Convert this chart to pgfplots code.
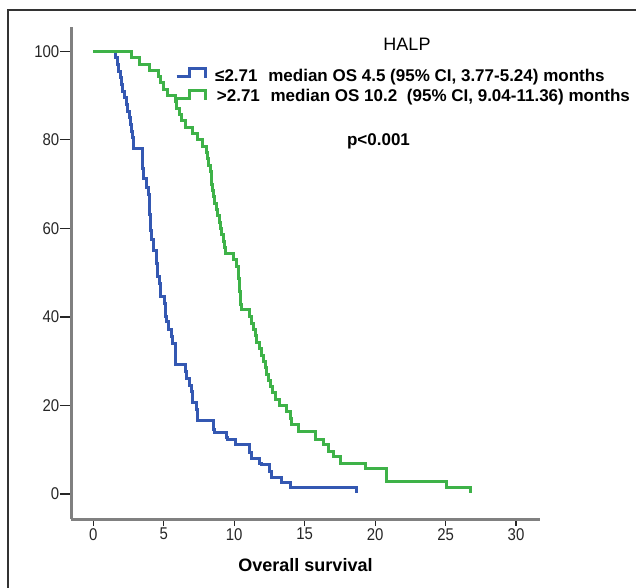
\documentclass[border=0pt]{standalone}
\usepackage{pgfplots}
\pgfplotsset{compat=1.18}
\usepackage{fontspec}
\setmainfont{Liberation Sans}
\newfontfamily\cfont[FakeStretch=0.88]{Liberation Sans}
\newfontfamily\cbold{Liberation Sans Bold}
\definecolor{kmblue}{RGB}{52,88,178}
\definecolor{kmgreen}{RGB}{62,178,72}
\definecolor{spine}{RGB}{128,128,128}

% Kaplan-Meier steps: time of drop, survival after drop
\pgfplotstableread{
t v
0 100
1.58 98.5
1.70 97.0
1.80 95.5
1.92 94.0
2.00 92.5
2.10 91.0
2.20 89.5
2.34 88.0
2.42 86.5
2.55 85.0
2.62 83.5
2.70 82.0
2.78 80.5
2.85 78.1
3.48 76.6
3.50 75.1
3.52 73.6
3.55 71.3
3.79 69.2
3.95 67.7
3.97 66.2
4.00 64.7
4.02 63.2
4.04 61.9
4.07 59.5
4.10 57.4
4.26 55.1
4.50 53.6
4.52 52.1
4.55 50.6
4.58 49.1
4.73 47.6
4.76 46.1
4.80 44.6
5.09 43.1
5.12 41.6
5.15 40.1
5.20 38.9
5.32 37.1
5.56 35.6
5.60 34.1
5.80 32.6
5.83 31.1
5.86 29.2
6.51 27.7
6.60 26.2
6.86 24.6
6.98 23.1
7.02 21.6
7.06 20.6
7.34 19.1
7.38 17.6
7.42 16.6
8.50 14.5
8.60 13.8
9.45 12.7
9.55 12.2
10.06 11.1
11.12 9.3
11.24 8.1
11.83 6.9
11.95 6.6
12.54 5.0
12.66 3.8
13.39 2.7
13.50 2.5
13.96 1.4
18.71 0.3
}\lowhalp

\pgfplotstableread{
t v
0 100
2.73 98.6
3.31 97.1
4.00 95.7
4.62 94.3
4.80 92.9
4.95 91.4
5.25 90.0
5.80 88.6
5.90 87.1
6.10 85.7
6.25 84.3
6.55 82.9
7.05 81.4
7.40 80.0
7.75 78.6
8.05 77.1
8.12 75.7
8.20 74.3
8.30 72.9
8.36 71.4
8.40 70.0
8.45 68.6
8.55 67.1
8.62 65.7
8.76 64.3
8.85 62.9
8.95 61.4
9.02 60.0
9.10 58.6
9.23 57.1
9.28 55.7
9.35 54.3
9.94 52.9
10.18 51.4
10.28 48.6
10.36 45.7
10.45 42.9
10.53 41.6
11.12 40.0
11.22 38.6
11.35 37.1
11.48 35.7
11.60 34.3
11.83 32.9
11.95 31.4
12.07 30.0
12.20 28.6
12.31 27.1
12.45 25.7
12.60 24.3
12.75 22.9
12.90 21.4
13.25 20.0
13.73 18.6
13.96 17.1
14.10 15.7
14.55 14.1
15.74 12.2
16.32 11.1
16.68 9.6
17.03 8.4
17.51 6.9
19.29 5.8
20.82 2.8
25.08 1.4
26.74 0.3
}\highhalp

\begin{document}
\begin{tikzpicture}[x=1pt,y=1pt]
\useasboundingbox (0,0) rectangle (636,587);
\draw[line width=1.4pt, black!80] (8,-2) -- (8,577) -- (640,577);
\begin{axis}[at={(71pt,68pt)}, anchor=south west, scale only axis,
  width=469pt, height=492pt,
  xmin=-1.58, xmax=31.7, ymin=-5.65, ymax=105.5,
  axis x line=bottom, axis y line=left,
  axis line style={-, line width=3pt, spine},
  xtick={0,5,...,30}, ytick={0,20,...,100},
  tick align=outside, major tick length=7pt,
  tick style={black!85, line width=1.2pt},
  ytick style={/pgfplots/major tick length=11pt},
  /pgf/number format/assume math mode=true,
  tick label style={font=\cfont\fontsize{17}{17}\selectfont, black!85},
  yticklabel style={inner sep=0.5pt, xshift=-4pt},
  xticklabel style={inner sep=2pt},
  clip=false]
\addplot[const plot, kmblue, line width=3pt] table[x=t, y=v] {\lowhalp};
\addplot[const plot, kmgreen, line width=3pt] table[x=t, y=v] {\highhalp};
% legend glyphs
\addplot[kmblue, line width=3pt] coordinates {(5.92,94.3) (6.86,94.3) (6.86,96.2) (7.93,96.2) (7.93,93.9)};
\addplot[kmgreen, line width=3pt] coordinates {(5.80,89.4) (6.86,89.4) (6.86,91.1) (7.93,91.1) (7.93,89.0)};
\end{axis}
\node[anchor=base, inner sep=0, font=\fontsize{18}{18}\selectfont] at (407,536.3) {HALP};
\node[anchor=base west, inner sep=0, font=\cbold\fontsize{17}{17}\selectfont] at (215,505.3)
  {≤2.71\hspace{6pt} median OS 4.5 (95\% CI, 3.77-5.24) months};
\node[anchor=base west, inner sep=0, font=\cbold\fontsize{17}{17}\selectfont] at (216.7,485.3)
  {>2.71\hspace{6pt} median OS 10.2\hspace{5pt} (95\% CI, 9.04-11.36) months};
\node[anchor=base, inner sep=0, font=\cbold\fontsize{17}{17}\selectfont] at (378.5,441) {p<0.001};
\node[anchor=base, inner sep=0, font=\cbold\fontsize{18}{18}\selectfont] at (305.5,16) {Overall survival};
\end{tikzpicture}
\end{document}
